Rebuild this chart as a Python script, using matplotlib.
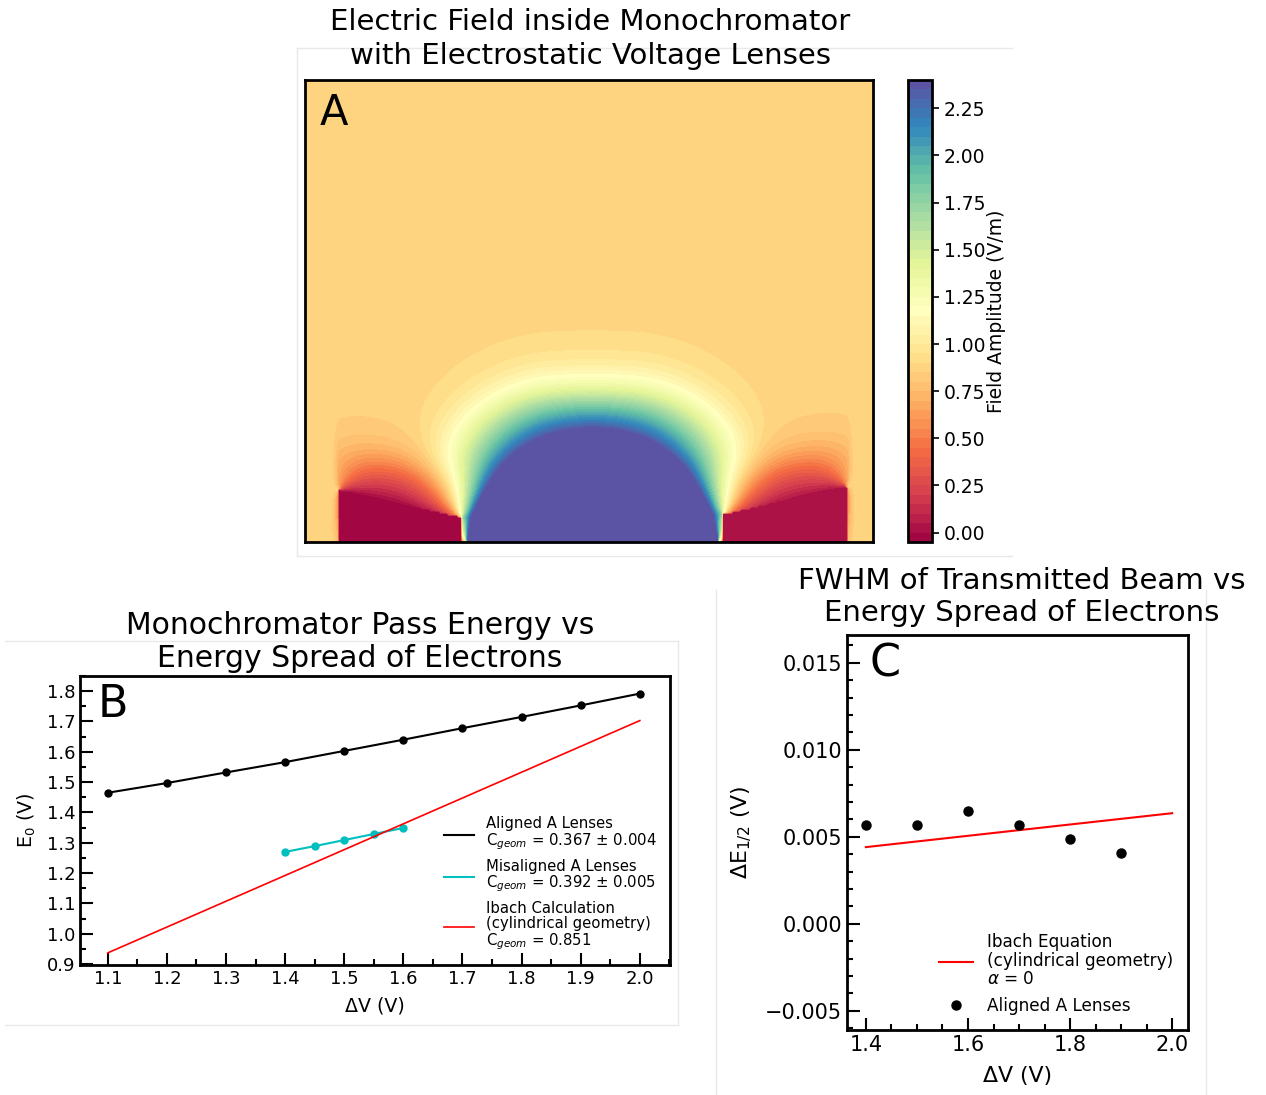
import numpy as np
import matplotlib.pyplot as plt
from matplotlib.lines import Line2D
from matplotlib.ticker import MultipleLocator

plt.rcParams['font.family'] = ['DejaVu Sans']
plt.rcParams['mathtext.fontset'] = 'dejavusans'

# --- panel A: lens geometry in mm (segment end points) and potentials
bg_field = 0.875
center_lens = [(16.2, 0.0), (41.3, 0.0)]
left_lens = [(3.4, 5.2), (15.7, 2.5)]
right_lens = [(41.8, 2.8), (54.2, 5.6)]
center_core = [(25.0, 0.0), (32.5, 0.0)]
lens_volts = [8.4, -0.025, 0.015]
lens_reach = [15.7, 5.0, 5.0]
lens_order = [10, 4, 4]
angle_power = [2.5, 1.5, 1.5]
block_levels = [-0.1, 0.01]
field_levels = np.linspace(-0.05, 2.40, 50)
cbar_ticks = [0.0, 0.25, 0.5, 0.75, 1.0, 1.25, 1.5, 1.75, 2.0, 2.25]

# --- panel B: pass energy vs delta V
dv_aligned = [1.1, 1.2, 1.3, 1.4, 1.5, 1.6, 1.7, 1.8, 1.9, 2.0]
e0_aligned = [1.465, 1.497, 1.532, 1.566, 1.603, 1.640, 1.678, 1.715, 1.753, 1.792]
dv_misaligned = [1.40, 1.45, 1.50, 1.55, 1.60]
e0_misaligned = [1.270, 1.289, 1.309, 1.329, 1.349]
dv_ibach = [1.1, 2.0]
e0_ibach = [0.937, 1.703]

# --- panel C: FWHM vs delta V
dv_fwhm = [1.4, 1.5, 1.6, 1.7, 1.8, 1.9]
fwhm_aligned = [0.00567, 0.00567, 0.00648, 0.00567, 0.00487, 0.00407]
dv_ibach_c = [1.4, 2.0]
fwhm_ibach = [0.00441, 0.00636]


def seen_angle(x, y, p, q):
    # angle (in units of pi) under which segment p-q is seen from (x, y)
    ax_, ay_ = p[0] - x, p[1] - y
    bx_, by_ = q[0] - x, q[1] - y
    return np.abs(np.arctan2(ax_ * by_ - ay_ * bx_, ax_ * bx_ + ay_ * by_)) / np.pi


def seg_distance(x, y, p, q):
    dx, dy = q[0] - p[0], q[1] - p[1]
    s = np.clip(((x - p[0]) * dx + (y - p[1]) * dy) / (dx * dx + dy * dy), 0, 1)
    return np.hypot(x - p[0] - s * dx, y - p[1] - s * dy)


gx, gy = np.meshgrid(np.arange(0, 56.81, 0.2), np.arange(0, 46.21, 0.2))

# side lenses only act above / inside their own blocks
side_fade = 0.5
left_cut = np.exp(-(np.clip(left_lens[0][0] - gx, 0, None) / side_fade) ** 2)
right_cut = np.exp(-(np.clip(gx - right_lens[1][0], 0, None) / side_fade) ** 2)

lenses = [center_lens, left_lens, right_lens]
cores = [center_core, left_lens, right_lens]
cuts = [1.0, left_cut, right_cut]

field = np.full(gx.shape, bg_field)
for (p, q), (cp, cq), v, r, n, k, cut in zip(lenses, cores, lens_volts, lens_reach,
                                            lens_order, angle_power, cuts):
    fall = 1 / (1 + (seg_distance(gx, gy, cp, cq) / r) ** n)
    field += (v - bg_field) * seen_angle(gx, gy, p, q) ** k * fall * cut

for (p, q), level in zip([left_lens, right_lens], block_levels):
    top = np.interp(gx, [p[0], q[0]], [p[1], q[1]])
    inside = (gx >= p[0]) & (gx <= q[0]) & (gy <= top)
    field[inside] = level

field = np.clip(field, field_levels[0] + 1e-4, field_levels[-1] - 1e-4)

W, H = 1266, 1095
fig = plt.figure(figsize=(W / 100, H / 100), dpi=100)


def frac(x0, y0, x1, y1):
    return [x0 / W, 1 - y1 / H, (x1 - x0) / W, (y1 - y0) / H]


# faint panel frames
for x0, y0, x1, y1 in [(297, 48, 1012, 48), (297, 48, 297, 556), (297, 556, 1012, 556),
                       (5, 641, 678, 641), (5, 1025, 678, 1025), (678, 641, 678, 1025),
                       (716, 590, 716, 1095), (1206, 590, 1206, 1095)]:
    fig.add_artist(Line2D([x0 / W, x1 / W], [1 - y0 / H, 1 - y1 / H],
                          transform=fig.transFigure, color='#e9e9e9', lw=1))

# ---------------- panel A
ax_a = fig.add_axes(frac(305, 80, 873, 542))
cf = ax_a.contourf(gx, gy, field, levels=field_levels, cmap='Spectral')
ax_a.set_xlim(0, 56.8)
ax_a.set_ylim(0, 46.2)
ax_a.set_xticks([])
ax_a.set_yticks([])
for s in ax_a.spines.values():
    s.set_linewidth(2)
ax_a.text(0.025, 0.975, 'A', transform=ax_a.transAxes, fontsize=30, va='top', ha='left')

cax = fig.add_axes(frac(908, 80, 932, 542))
cb = fig.colorbar(cf, cax=cax, ticks=cbar_ticks, format='%.2f')
cb.outline.set_linewidth(2)
cax.tick_params(labelsize=13.5, length=5, width=1.2)
cb.set_label('Field Amplitude (V/m)', fontsize=13.5, labelpad=1)

fig.text(590 / W, 1 - 39 / H, 'Electric Field inside Monochromator\nwith Electrostatic Voltage Lenses',
         ha='center', va='center', fontsize=21, linespacing=1.25)

# ---------------- panel B
ax_b = fig.add_axes(frac(80, 676, 670, 965))
ax_b.plot(dv_aligned, e0_aligned, color='k', lw=1.5,
          label='Aligned A Lenses\nC$_{geom}$ = 0.367 ± 0.004')
ax_b.plot(dv_aligned, e0_aligned, 'o', color='k', ms=5)
ax_b.plot(dv_misaligned, e0_misaligned, color='c', lw=1.5,
          label='Misaligned A Lenses\nC$_{geom}$ = 0.392 ± 0.005')
ax_b.plot(dv_misaligned, e0_misaligned, 'o', color='c', ms=5)
ax_b.plot(dv_ibach, e0_ibach, color='red', lw=1.2,
          label='Ibach Calculation\n(cylindrical geometry)\nC$_{geom}$ = 0.851')
ax_b.set_xlim(1.053, 2.051)
ax_b.set_ylim(0.897, 1.85)
ax_b.xaxis.set_major_locator(MultipleLocator(0.1))
ax_b.xaxis.set_minor_locator(MultipleLocator(0.05))
ax_b.yaxis.set_major_locator(MultipleLocator(0.1))
ax_b.yaxis.set_minor_locator(MultipleLocator(0.05))
ax_b.set_xlabel('ΔV (V)', fontsize=13.7, labelpad=6)
ax_b.set_ylabel('E$_0$ (V)', fontsize=13.7, labelpad=6)
leg_b = ax_b.legend(loc='lower right', frameon=False, fontsize=10.7, labelspacing=0.45)
for t in leg_b.get_texts():
    t.set_linespacing(1.0)
ax_b.text(0.03, 0.975, 'B', transform=ax_b.transAxes, fontsize=32, va='top', ha='left')
fig.text(360 / W, 1 - 642 / H, 'Monochromator Pass Energy vs\nEnergy Spread of Electrons',
         ha='center', va='center', fontsize=21.5, linespacing=1.2)

# ---------------- panel C
ax_c = fig.add_axes(frac(847, 635, 1188, 1030))
ax_c.plot(dv_ibach_c, fwhm_ibach, color='red', lw=1.5,
          label='Ibach Equation\n(cylindrical geometry)\n$\\alpha$ = 0')
ax_c.plot(dv_fwhm, fwhm_aligned, 'o', color='k', ms=6.5, ls='none', label='Aligned A Lenses')
ax_c.set_xlim(1.363, 2.031)
ax_c.set_ylim(-0.0061, 0.0166)
ax_c.xaxis.set_major_locator(MultipleLocator(0.2))
ax_c.xaxis.set_minor_locator(MultipleLocator(0.05))
ax_c.yaxis.set_major_locator(MultipleLocator(0.005))
ax_c.yaxis.set_minor_locator(MultipleLocator(0.001))
ax_c.set_xlabel('ΔV (V)', fontsize=15.8, labelpad=8)
ax_c.set_ylabel('ΔE$_{1/2}$ (V)', fontsize=15.8, labelpad=8)
leg_c = ax_c.legend(loc='lower right', frameon=False, fontsize=12.2, numpoints=1)
for t in leg_c.get_texts():
    t.set_linespacing(1.05)
ax_c.text(0.065, 0.98, 'C', transform=ax_c.transAxes, fontsize=32, va='top', ha='left')
fig.text(1022 / W, 1 - 597 / H, 'FWHM of Transmitted Beam vs\nEnergy Spread of Electrons',
         ha='center', va='center', fontsize=21, linespacing=1.2)

for ax, size in [(ax_b, 13), (ax_c, 15)]:
    for s in ax.spines.values():
        s.set_linewidth(2)
    ax.tick_params(which='both', direction='in', top=False, right=False, labelsize=size)
    ax.tick_params(which='major', length=9, width=1.5)
    ax.tick_params(which='minor', length=4.5, width=1.5)

fig.savefig('out.png', dpi=100)
